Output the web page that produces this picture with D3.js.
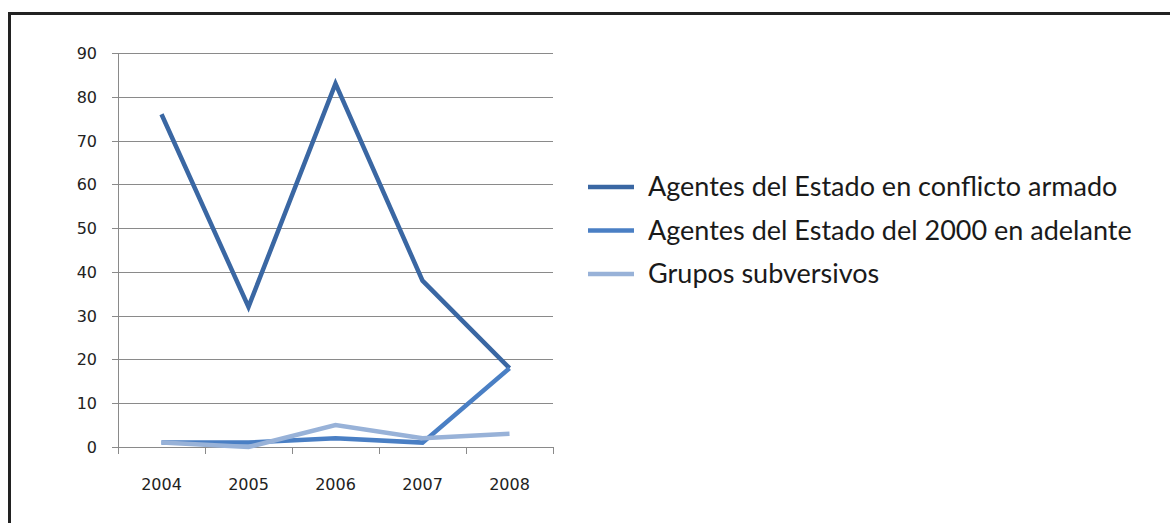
<!DOCTYPE html>
<html>
<head>
<meta charset="utf-8">
<script src="https://cdn.jsdelivr.net/npm/d3@7"></script>
<style>
  body { margin: 0; background: #fff; }
</style>
</head>
<body>
<svg id="chart" width="1170" height="523"></svg>
<script>
// data
var years = ["2004", "2005", "2006", "2007", "2008"];
var conflicto = [76, 32, 83, 38, 18];
var desde2000 = [1, 1, 2, 1, 18];
var subversivos = [1, 0, 5, 2, 3];
var seriesNames = ["Agentes del Estado en conflicto armado", "Agentes del Estado del 2000 en adelante", "Grupos subversivos"];
var yTicks = [0, 10, 20, 30, 40, 50, 60, 70, 80, 90];

var colors = ["#3a67a3", "#4a7fc4", "#98b2d8"];
var series = [conflicto, desde2000, subversivos];

var svg = d3.select("#chart");

// outer frame
svg.append("rect")
  .attr("x", 9.5).attr("y", 13.5)
  .attr("width", 1200).attr("height", 600)
  .attr("fill", "none")
  .attr("stroke", "#222")
  .attr("stroke-width", 3);

var plot = { left: 118, right: 553, top: 53, bottom: 447 };

var x = d3.scaleBand().domain(years).range([plot.left, plot.right]);
var y = d3.scaleLinear().domain([0, 90]).range([plot.bottom, plot.top]);

// gridlines + y ticks
svg.append("g")
  .selectAll("line")
  .data(yTicks)
  .enter().append("line")
  .attr("x1", plot.left - 6).attr("x2", plot.right)
  .attr("y1", function(d) { return Math.round(y(d)) + 0.5; })
  .attr("y2", function(d) { return Math.round(y(d)) + 0.5; })
  .attr("stroke", "#8a8a8a")
  .attr("stroke-width", 1);

// y axis line
svg.append("line")
  .attr("x1", plot.left + 0.5).attr("x2", plot.left + 0.5)
  .attr("y1", plot.top).attr("y2", plot.bottom)
  .attr("stroke", "#8a8a8a");

// x tick marks at band edges
var edges = years.map(function(d) { return x(d); }).concat([plot.right]);
svg.append("g")
  .selectAll("line")
  .data(edges)
  .enter().append("line")
  .attr("x1", function(d) { return Math.round(d) + 0.5; })
  .attr("x2", function(d) { return Math.round(d) + 0.5; })
  .attr("y1", plot.bottom).attr("y2", plot.bottom + 7)
  .attr("stroke", "#8a8a8a");

// y labels
svg.append("g")
  .selectAll("text")
  .data(yTicks)
  .enter().append("text")
  .attr("x", 97)
  .attr("y", function(d) { return y(d) + 6; })
  .attr("text-anchor", "end")
  .attr("font-family", "DejaVu Sans, Verdana, sans-serif")
  .attr("font-size", "16px")
  .attr("fill", "#222")
  .text(function(d) { return d; });

// x labels
svg.append("g")
  .selectAll("text")
  .data(years)
  .enter().append("text")
  .attr("x", function(d) { return x(d) + x.bandwidth() / 2; })
  .attr("y", 490)
  .attr("text-anchor", "middle")
  .attr("font-family", "DejaVu Sans, Verdana, sans-serif")
  .attr("font-size", "16px")
  .attr("fill", "#222")
  .text(function(d) { return d; });

// lines
var line = d3.line()
  .x(function(d, i) { return x(years[i]) + x.bandwidth() / 2; })
  .y(function(d) { return y(d); });

series.forEach(function(s, i) {
  svg.append("path")
    .datum(s)
    .attr("d", line)
    .attr("fill", "none")
    .attr("stroke", colors[i])
    .attr("stroke-width", 4.5)
    .attr("stroke-linejoin", "miter");
});

// legend
var legend = svg.append("g");
seriesNames.forEach(function(name, i) {
  var ly = 187 + i * 43.5;
  legend.append("line")
    .attr("x1", 588).attr("x2", 634)
    .attr("y1", ly).attr("y2", ly)
    .attr("stroke", colors[i])
    .attr("stroke-width", 4.5);
  legend.append("text")
    .attr("x", 648)
    .attr("y", ly + 9)
    .attr("font-family", "Lato, sans-serif")
    .attr("font-size", "27px")
    .attr("fill", "#1a1a1a")
    .text(name);
});
</script>
</body>
</html>
